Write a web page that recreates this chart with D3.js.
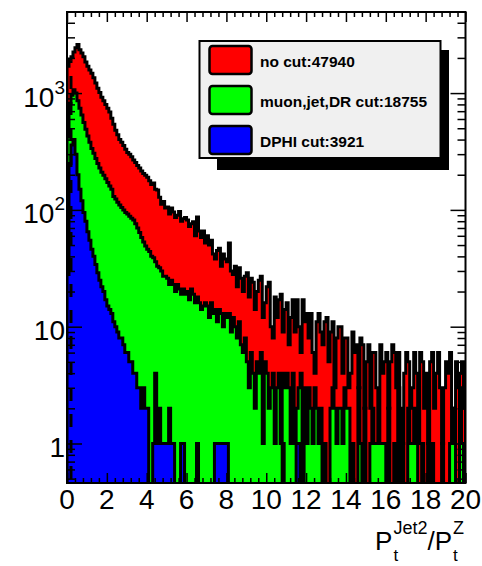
<!DOCTYPE html>
<html><head><meta charset="utf-8">
<script src="https://cdn.jsdelivr.net/npm/d3@7/dist/d3.min.js"></script>
<style>body{margin:0;background:#fff;} svg{display:block;}</style>
</head><body>
<svg id="c" width="482" height="566"></svg>
<script>
// ---------- data (200 bins of width 0.1 on [0,20]) ----------
const binWidth = 0.1;
const noCut = [
1700,1950,2050,2250,2450,2600,2350,2200,2050,1850,
1700,1580,1480,1350,1220,1100,1010,920,860,800,
740,690,610,540,480,440,400,380,355,330,
310,300,285,268,255,240,228,215,205,198,
190,178,165,170,150,148,128,112,118,104,
106,92,104,96,86,90,97,80,84,86,
82,72,76,79,60,87,66,58,66,52,
60,50,55,42,38,45,47,33,42,38,
36,52,30,28,33,22,32,26,20,27,
29,18,26,24,14,20,25,27,12,16,
22,24,10,8,18,12,17,19,9,14,
16,7,12,17,9,17,10,6,17,11,
13,8,13,6,4,11,13,9,7,11,
12,5,9,11,3,8,10,10,4,8,
8,3,4,9,6,7,3,8,7,2,
5,7,2,6,6,3,1,7,4,5,
6,2,5,7,6,3,6,2,1,4,
6,5,2,3,6,4,1,6,5,2,
4,1,5,6,2,4,6,3,1,3,
5,4,6,2,1,5,3,4,5,2];
const muonJetDR = [
420,820,960,1070,1000,860,740,650,560,490,
430,380,335,305,275,250,228,210,198,185,
172,160,150,130,124,116,110,105,100,95,
92,88,85,82,76,70,64,58,53,49,
46,44,40,39,36,33,32,30,27,27,
26,23,25,23,20,23,21,19,21,19,
20,17,21,19,16,18,16,14,15,16,
15,12,16,13,14,11,14,13,10,13,
12,13,9,12,10,8,11,7,6,8,
5,3,6,4,2,5,4,6,1,5,
4,2,3,4,1,3,4,1,4,3,
4,3,1,4,1,2,3,4,0,3,
1,3,2,1,3,2,1,2,0,1,
0,0,2,3,2,1,2,2,1,3,
2,2,0,1,0,0,3,1,0,2,
0,0,1,2,1,1,1,1,1,1,
0,2,0,0,1,0,3,0,1,0,
0,2,1,1,2,1,0,0,1,0,
0,1,0,1,0,0,0,0,1,0,
0,0,1,2,1,0,0,3,1,0];
const dphiCut = [
28,250,360,400,300,200,150,120,95,80,
65,55,46,40,34,29,25,22,20,17,
15,14,13,11,10,9,8,8,7,6,
6,5,5,4,4,3,3,2,3,2,
2,0,0,1,4,1,2,1,1,1,
1,2,1,1,0,0,0,1,1,0,
0,0,0,0,0,1,0,0,0,0,
0,0,0,0,1,1,1,1,1,1,
1,0,0,0,0,0,0,0,0,0,
0,0,0,0,0,0,0,0,0,0,
0,0,0,0,0,0,0,0,1,0,
0,0,0,0,0,1,1,0,0,0,
0,0,0,0,0,0,0,0,0,0,
0,0,0,0,0,0,0,0,0,0,
0,0,0,0,0,0,0,0,0,0,
0,0,0,0,0,0,0,0,0,0,
0,0,0,0,0,0,0,0,0,0,
0,0,0,0,0,0,0,0,0,0,
0,0,0,0,0,0,0,0,0,0,
0,0,0,0,0,0,0,0,0,0];
const seriesNames = ["no cut:47940", "muon,jet,DR cut:18755", "DPHI cut:3921"];
const seriesColors = ["#ff0000", "#00ff00", "#0000ff"];
const xTickValues = [0,2,4,6,8,10,12,14,16,18,20];
const xTickLabels = ["0","2","4","6","8","10","12","14","16","18","20"];
const yTickValues = [1,10,100,1000];
const yTickLabels = [["1",""],["10",""],["10","2"],["10","3"]];
const cutLineX = 0.2;

// ---------- layout ----------
const L = 67, R = 465.5, T = 12, B = 483;
const font = "'Liberation Sans', Arial, Helvetica, sans-serif";
const svg = d3.select("#c");
const x = d3.scaleLinear().domain([0, 20]).range([L, R]);
const y = d3.scaleLog().domain([0.459, 4945]).range([B, T]);

svg.append("defs").append("clipPath").attr("id","clip")
  .append("rect").attr("x",L).attr("y",T).attr("width",R-L).attr("height",B-T);

const plot = svg.append("g").attr("clip-path","url(#clip)");

function stepPath(vals){
  const low = B + 12;
  let p = `M${x(0)},${low}`;
  vals.forEach((v,i)=>{
    const yy = v > 0 ? y(v) : low;
    p += `L${x(i*binWidth)},${yy}L${x((i+1)*binWidth)},${yy}`;
  });
  p += `L${x(vals.length*binWidth)},${low}Z`;
  return p;
}
[noCut, muonJetDR, dphiCut].forEach((vals,k)=>{
  plot.append("path").attr("d", stepPath(vals))
    .attr("fill", seriesColors[k]).attr("stroke","#000")
    .attr("stroke-width",3).attr("stroke-linejoin","miter");
});

// dashed cut line
plot.append("line").attr("x1",x(cutLineX)).attr("x2",x(cutLineX))
  .attr("y1",479).attr("y2",y(1900))
  .attr("stroke","#000").attr("stroke-width",3).attr("stroke-dasharray","13,13");

// ---------- axes ----------
const xMinor = d3.range(0, 20.001, 0.4).filter(v => Math.abs(v/2 - Math.round(v/2)) > 1e-6);
function styleAxis(g){ g.select(".domain").remove(); g.selectAll("line").attr("stroke","#000").attr("stroke-width",1.5); g.selectAll("text").remove(); }
svg.append("g").attr("transform",`translate(0,${B})`).call(d3.axisBottom(x).tickValues(xTickValues).tickSize(-10)).call(styleAxis);
svg.append("g").attr("transform",`translate(0,${B})`).call(d3.axisBottom(x).tickValues(xMinor).tickSize(-5)).call(styleAxis);
svg.append("g").attr("transform",`translate(0,${T})`).call(d3.axisTop(x).tickValues(xTickValues).tickSize(-10)).call(styleAxis);
svg.append("g").attr("transform",`translate(0,${T})`).call(d3.axisTop(x).tickValues(xMinor).tickSize(-5)).call(styleAxis);

const yMinor = [];
[0.1,1,10,100,1000].forEach(d=>{ for(let m=2;m<=9;m++){ const v=d*m; if(v>0.459 && v<4945) yMinor.push(v);} });
svg.append("g").attr("transform",`translate(${L},0)`).call(d3.axisLeft(y).tickValues(yTickValues).tickSize(-15)).call(styleAxis);
svg.append("g").attr("transform",`translate(${L},0)`).call(d3.axisLeft(y).tickValues(yMinor).tickSize(-8)).call(styleAxis);
svg.append("g").attr("transform",`translate(${R},0)`).call(d3.axisRight(y).tickValues(yTickValues).tickSize(-15)).call(styleAxis);
svg.append("g").attr("transform",`translate(${R},0)`).call(d3.axisRight(y).tickValues(yMinor).tickSize(-8)).call(styleAxis);

// frame
svg.append("rect").attr("x",L).attr("y",T).attr("width",R-L).attr("height",B-T)
  .attr("fill","none").attr("stroke","#000").attr("stroke-width",2);

// x labels
svg.append("g").selectAll("text").data(xTickValues).join("text")
  .attr("x", d=>x(d)).attr("y", 509).attr("text-anchor","middle")
  .attr("font-family",font).attr("font-size",28).attr("fill","#000")
  .text((d,i)=>xTickLabels[i]);

// y labels
yTickValues.forEach((v,i)=>{
  const t = svg.append("text").attr("x",65).attr("y",y(v)+13.5).attr("text-anchor","end")
    .attr("font-family",font).attr("font-size",28).attr("fill","#000");
  t.append("tspan").text(yTickLabels[i][0]);
  if(yTickLabels[i][1]) t.append("tspan").attr("font-size",19).attr("dy",-13).text(yTickLabels[i][1]);
});

// axis title P_t^{Jet2}/P_t^Z
(function(){
  const g = svg.append("g").attr("font-family",font).attr("fill","#000");
  const parts = [
    {main:"P", sup:"Jet2", sub:"t"},
    {main:"/", sup:"", sub:""},
    {main:"P", sup:"Z", sub:"t"}
  ];
  let cx = 0;
  const base = 550;
  parts.forEach(p=>{
    const m = g.append("text").attr("x",cx).attr("y",base).attr("font-size",26).text(p.main);
    cx += m.node().getComputedTextLength();
    let w = 0;
    if(p.sup){ const s = g.append("text").attr("x",cx+1).attr("y",base-16).attr("font-size",18).text(p.sup); w = Math.max(w, s.node().getComputedTextLength()+1); }
    if(p.sub){ const s = g.append("text").attr("x",cx+1).attr("y",base+11).attr("font-size",17).text(p.sub); w = Math.max(w, s.node().getComputedTextLength()+1); }
    cx += w;
  });
  g.attr("transform",`translate(${464-cx},0)`);
})();

// ---------- legend ----------
const lg = svg.append("g");
lg.append("rect").attr("x",217).attr("y",50).attr("width",232).attr("height",120).attr("fill","#000");
lg.append("rect").attr("x",199.5).attr("y",41).attr("width",241).attr("height",117)
  .attr("fill","#f0f0f0").attr("stroke","#000").attr("stroke-width",2);
const rowY = [60, 100, 140];
seriesNames.forEach((name,k)=>{
  lg.append("rect").attr("x",209.5).attr("y",rowY[k]-14).attr("width",42).attr("height",28)
    .attr("rx",3).attr("fill",seriesColors[k]).attr("stroke","#000").attr("stroke-width",2.5);
  lg.append("text").attr("x",260).attr("y",rowY[k]+7).attr("font-family",font)
    .attr("font-weight","bold").attr("font-size",15.5).attr("fill","#000").text(name);
});
</script>
</body></html>
